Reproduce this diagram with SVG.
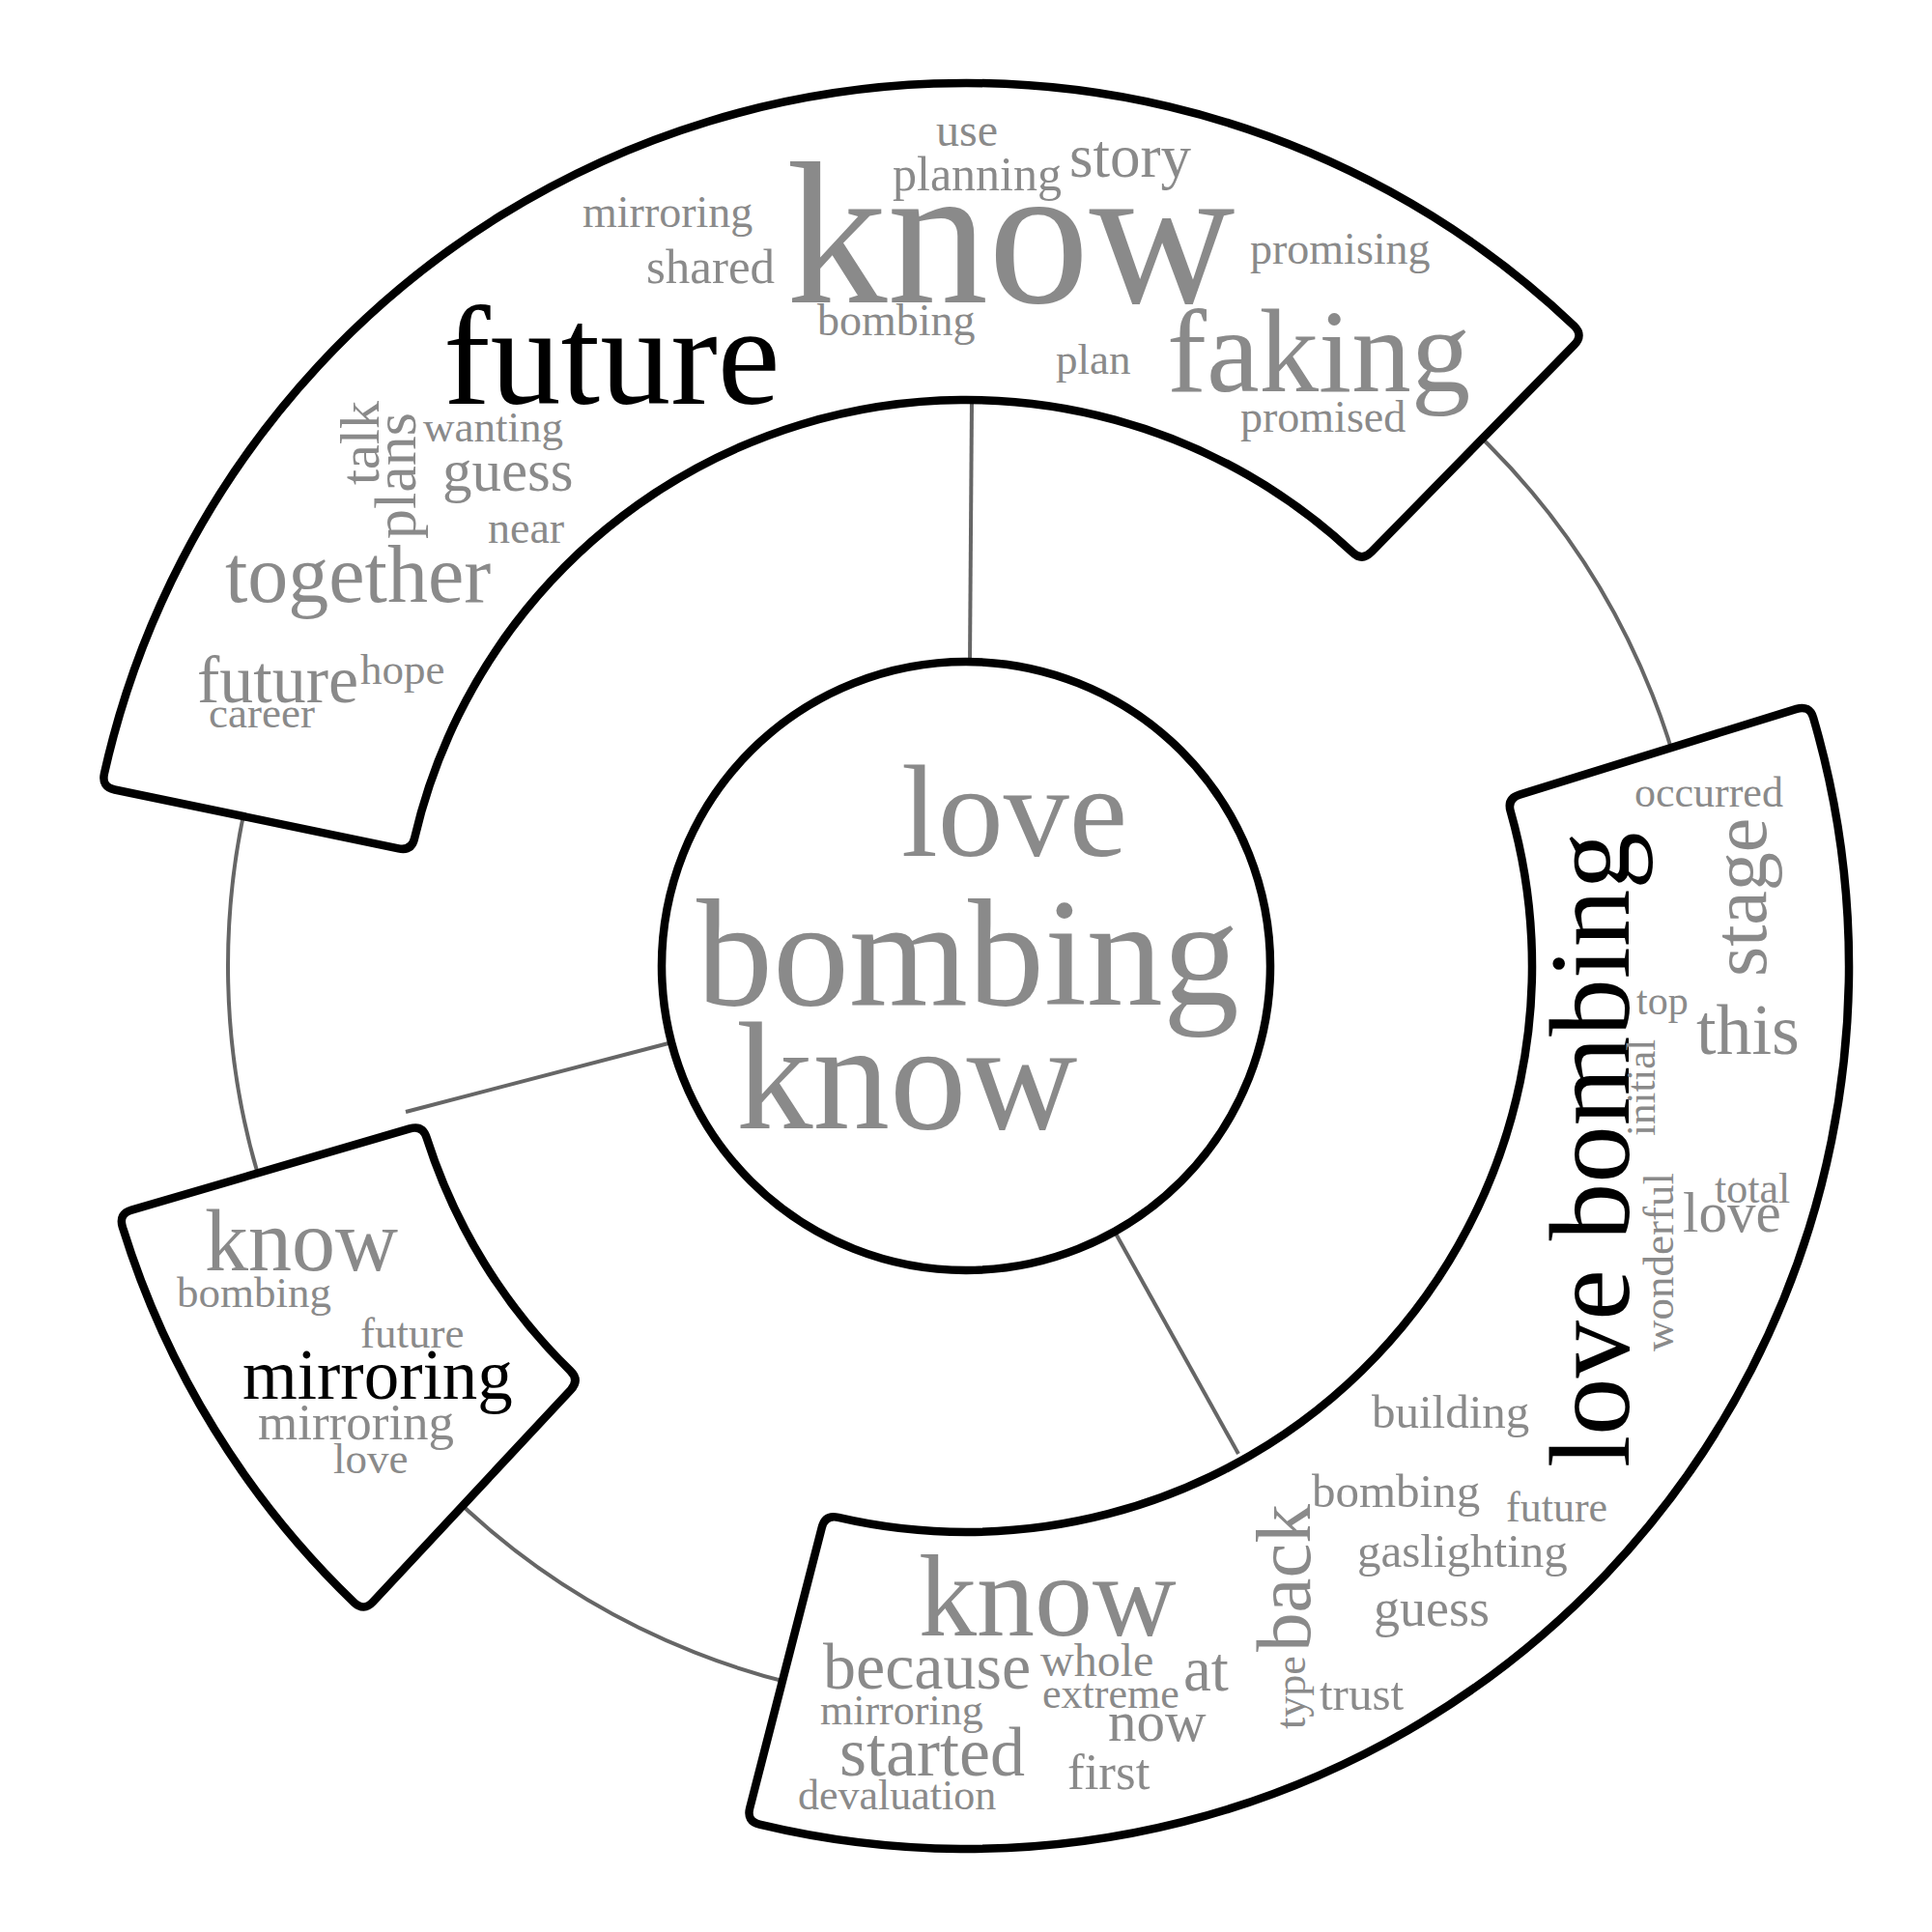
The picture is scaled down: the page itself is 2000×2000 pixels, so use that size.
<svg xmlns="http://www.w3.org/2000/svg" width="2000" height="2000" viewBox="0 0 2000 2000">
<style>
text{font-family:"Liberation Serif","Times New Roman",serif}
.g{fill:#8a8a8a}
.k{fill:#000}
.seg{fill:#fff;stroke:#000;stroke-width:8.5;stroke-linejoin:round}
.ln{fill:none;stroke:#666;stroke-width:4}
</style>
<rect width="2000" height="2000" fill="#fff"/>
<g id="connectors">
<circle class="ln" cx="1000" cy="1000" r="764"/>
<path class="ln" d="M1004,686 L1006,415"/>
<path class="ln" d="M692,1080 L420,1151"/>
<path class="ln" d="M1155,1277 L1282,1505"/>
</g>
<g id="seg-future">
<path class="seg" d="M118.70,817.49 Q104.99,814.65 107.94,800.95 A914,914 0 0 1 1629.42,337.25 Q1639.49,346.97 1629.69,356.97 L1419.80,571.31 Q1410.00,581.31 1399.89,571.64 A586,586 0 0 0 429.18,867.49 Q426.18,881.17 412.47,878.33 Z"/>
<text class="g" x="969" y="151" font-size="48">use</text>
<text class="g" x="924" y="197" font-size="50">planning</text>
<text class="g" x="1107" y="183" font-size="63">story</text>
<text class="g" x="814" y="313" font-size="209">know</text>
<text class="g" x="603" y="235" font-size="46">mirroring</text>
<text class="g" x="669" y="293" font-size="51">shared</text>
<text class="g" x="846" y="347" font-size="46">bombing</text>
<text class="k" x="459" y="418" font-size="146">future</text>
<text class="g" x="1294" y="273" font-size="46">promising</text>
<text class="g" x="1093" y="387" font-size="45">plan</text>
<text class="g" x="1208" y="405" font-size="123">faking</text>
<text class="g" x="1284" y="447" font-size="46">promised</text>
<text class="g" x="438" y="457" font-size="45">wanting</text>
<text class="g" x="458" y="508" font-size="61">guess</text>
<text class="g" x="505" y="562" font-size="46">near</text>
<text class="g" x="233" y="623" font-size="84">together</text>
<text class="g" x="204" y="727" font-size="70">future</text>
<text class="g" x="373" y="708" font-size="45">hope</text>
<text class="g" x="216" y="753" font-size="45">career</text>
<text class="g" font-size="58" transform="translate(392,502) rotate(-90)">talk</text>
<text class="g" font-size="62" transform="translate(430,558) rotate(-90)">plans</text>
</g>
<g id="seg-lovebombing">
<path class="seg" d="M1859.75,733.86 Q1873.13,729.72 1877.17,743.11 A914,914 0 0 1 786.28,1888.66 Q772.70,1885.28 776.18,1871.72 L850.79,1581.15 Q854.27,1567.59 867.87,1570.91 A586,586 0 0 0 1563.77,840.14 Q1559.79,826.71 1573.17,822.57 Z"/>
<text class="g" x="1692" y="835" font-size="44">occurred</text>
<text class="k" font-size="119" transform="translate(1686,1519) rotate(-90)">love bombing</text>
<text class="g" font-size="80" transform="translate(1828,1011) rotate(-90)">stage</text>
<text class="g" x="1694" y="1050" font-size="42">top</text>
<text class="g" x="1756" y="1091" font-size="74">this</text>
<text class="g" font-size="43" transform="translate(1713,1176) rotate(-90)">initial</text>
<text class="g" font-size="45" transform="translate(1732,1399) rotate(-90)">wonderful</text>
<text class="g" x="1775" y="1245" font-size="44">total</text>
<text class="g" x="1742" y="1275" font-size="59">love</text>
<text class="g" x="1420" y="1478" font-size="49">building</text>
<text class="g" x="1358" y="1560" font-size="49">bombing</text>
<text class="g" x="1559" y="1575" font-size="44">future</text>
<text class="g" x="1405" y="1622" font-size="49">gaslighting</text>
<text class="g" x="1422" y="1683" font-size="54">guess</text>
<text class="g" font-size="81" transform="translate(1356,1710) rotate(-90)">back</text>
<text class="g" font-size="44" transform="translate(1351,1790) rotate(-90)">type</text>
<text class="g" x="1366" y="1770" font-size="49">trust</text>
<text class="g" x="951" y="1693" font-size="120">know</text>
<text class="g" x="852" y="1748" font-size="68">because</text>
<text class="g" x="1077" y="1735" font-size="48">whole</text>
<text class="g" x="1225" y="1750" font-size="65">at</text>
<text class="g" x="1079" y="1768" font-size="44">extreme</text>
<text class="g" x="849" y="1785" font-size="44">mirroring</text>
<text class="g" x="1147" y="1802" font-size="59">now</text>
<text class="g" x="869" y="1838" font-size="72">started</text>
<text class="g" x="1105" y="1852" font-size="53">first</text>
<text class="g" x="826" y="1873" font-size="44">devaluation</text>
</g>
<g id="seg-mirroring">
<path class="seg" d="M386.20,1658.22 Q376.65,1668.45 366.48,1658.83 A914,914 0 0 1 126.77,1269.94 Q122.73,1256.53 136.17,1252.60 L424.11,1168.40 Q437.55,1164.47 441.64,1177.86 A586,586 0 0 0 590.22,1418.90 Q600.35,1428.57 590.80,1438.81 Z"/>
<text class="g" x="212" y="1315" font-size="90">know</text>
<text class="g" x="183" y="1353" font-size="45">bombing</text>
<text class="g" x="373" y="1395" font-size="45">future</text>
<text class="k" x="251" y="1448" font-size="73">mirroring</text>
<text class="g" x="267" y="1490" font-size="53">mirroring</text>
<text class="g" x="345" y="1525" font-size="45">love</text>
</g>
<g id="center">
<circle cx="1000" cy="1000" r="315" fill="#fff" stroke="#000" stroke-width="8.5"/>
<text class="g" x="933" y="886" font-size="136">love</text>
<text class="g" x="721" y="1040" font-size="158">bombing</text>
<text class="g" x="762" y="1168" font-size="159">know</text>
</g>
</svg>
